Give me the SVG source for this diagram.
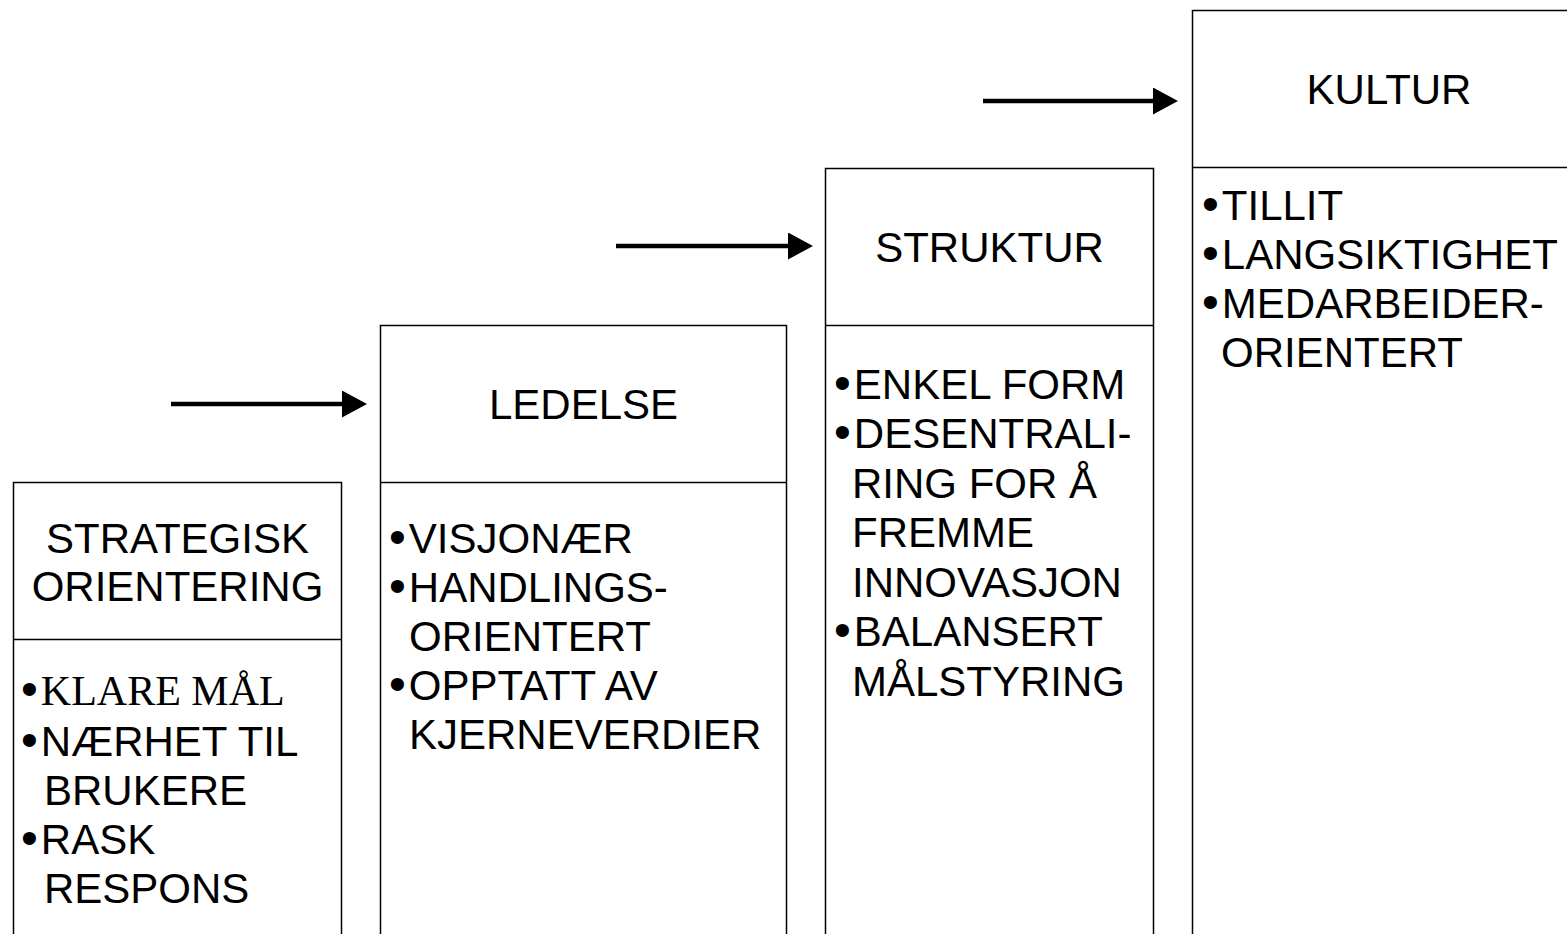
<svg xmlns="http://www.w3.org/2000/svg" width="1567" height="934" viewBox="0 0 1567 934">
  <style>
    .box { fill: #fff; stroke: #000; stroke-width: 1.5; }
    .div { stroke: #000; stroke-width: 1.5; }
    .t { font-family: "Liberation Sans", Arial, sans-serif; font-size: 42px; fill: #000; }
    .b { font-size: 48px; }
    .h { text-anchor: middle; }
    .serif { font-family: "Liberation Serif", "Times New Roman", serif; }
    .arrow { stroke: #000; stroke-width: 4.5; fill: none; marker-end: url(#head); }
  </style>
  <defs>
    <marker id="head" viewBox="0 0 25 27" refX="0" refY="13.5" markerWidth="25" markerHeight="27" markerUnits="userSpaceOnUse" orient="auto">
      <path d="M0,0 L25,13.5 L0,27 Z" fill="#000"/>
    </marker>
  </defs>
  <rect x="0" y="0" width="1567" height="934" fill="#fff"/>

  <g id="connectors">
    <line class="arrow" x1="171" y1="404" x2="342" y2="404"/>
    <line class="arrow" x1="616" y1="246" x2="788" y2="246"/>
    <line class="arrow" x1="983" y1="101" x2="1153" y2="101"/>
  </g>

  <g id="node-strategisk">
    <rect class="box" x="13.5" y="482.5" width="328" height="480"/>
    <line class="div" x1="13.5" y1="639.5" x2="341.5" y2="639.5"/>
    <text class="t h" x="177.5" y="553">STRATEGISK</text>
    <text class="t h" x="177.5" y="601">ORIENTERING</text>
    <text class="t" x="21" y="705"><tspan class="b">•</tspan><tspan class="serif" dx="3">KLARE MÅL</tspan></text>
    <text class="t" x="21" y="756"><tspan class="b">•</tspan><tspan dx="3">NÆRHET TIL</tspan></text>
    <text class="t" x="44" y="805">BRUKERE</text>
    <text class="t" x="21" y="854"><tspan class="b">•</tspan><tspan dx="3">RASK</tspan></text>
    <text class="t" x="44" y="903">RESPONS</text>
  </g>

  <g id="node-ledelse">
    <rect class="box" x="380.5" y="325.5" width="406" height="640"/>
    <line class="div" x1="380.5" y1="482.5" x2="786.5" y2="482.5"/>
    <text class="t h" x="583.5" y="419">LEDELSE</text>
    <text class="t" x="389" y="553"><tspan class="b">•</tspan><tspan dx="3">VISJONÆR</tspan></text>
    <text class="t" x="389" y="602"><tspan class="b">•</tspan><tspan dx="3">HANDLINGS-</tspan></text>
    <text class="t" x="409" y="651">ORIENTERT</text>
    <text class="t" x="389" y="700"><tspan class="b">•</tspan><tspan dx="3">OPPTATT AV</tspan></text>
    <text class="t" x="409" y="749">KJERNEVERDIER</text>
  </g>

  <g id="node-struktur">
    <rect class="box" x="825.5" y="168.5" width="328" height="800"/>
    <line class="div" x1="825.5" y1="325.5" x2="1153.5" y2="325.5"/>
    <text class="t h" x="989.5" y="262">STRUKTUR</text>
    <text class="t" x="834" y="399"><tspan class="b">•</tspan><tspan dx="3">ENKEL FORM</tspan></text>
    <text class="t" x="834" y="448"><tspan class="b">•</tspan><tspan dx="3">DESENTRALI-</tspan></text>
    <text class="t" x="852" y="498">RING FOR Å</text>
    <text class="t" x="852" y="547">FREMME</text>
    <text class="t" x="852" y="597">INNOVASJON</text>
    <text class="t" x="834" y="646"><tspan class="b">•</tspan><tspan dx="3">BALANSERT</tspan></text>
    <text class="t" x="852" y="696">MÅLSTYRING</text>
  </g>

  <g id="node-kultur">
    <rect class="box" x="1192.5" y="10.5" width="400" height="960"/>
    <line class="div" x1="1192.5" y1="167.5" x2="1592.5" y2="167.5"/>
    <text class="t h" x="1389" y="104">KULTUR</text>
    <text class="t" x="1202" y="220"><tspan class="b">•</tspan><tspan dx="3">TILLIT</tspan></text>
    <text class="t" x="1202" y="269"><tspan class="b">•</tspan><tspan dx="3">LANGSIKTIGHET</tspan></text>
    <text class="t" x="1202" y="318"><tspan class="b">•</tspan><tspan dx="3">MEDARBEIDER-</tspan></text>
    <text class="t" x="1221" y="367">ORIENTERT</text>
  </g>
</svg>
